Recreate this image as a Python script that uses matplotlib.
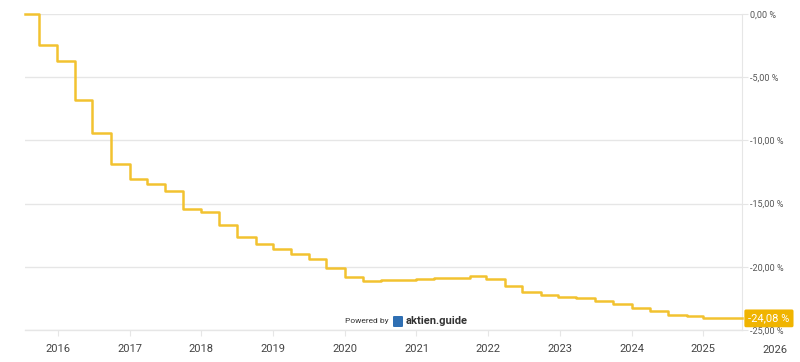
import matplotlib
matplotlib.use("Agg")
import matplotlib.pyplot as plt
import matplotlib.transforms as mtransforms
from matplotlib.patches import FancyBboxPatch

plt.rcParams['font.family'] = ['Roboto', 'DejaVu Sans']

# step starts (decimal year) and cumulative change in %
step_x = [2015.54, 2015.735, 2015.98, 2016.24, 2016.48, 2016.735,
          2017.0, 2017.24, 2017.49, 2017.75, 2018.0, 2018.24, 2018.50, 2018.76,
          2019.0, 2019.25, 2019.50, 2019.74, 2020.0, 2020.25, 2020.5, 2020.75,
          2021.0, 2021.25, 2021.5, 2021.75, 2021.97, 2022.23, 2022.47, 2022.74,
          2022.98, 2023.23, 2023.49, 2023.74, 2024.0, 2024.26, 2024.51, 2024.77,
          2025.0, 2025.27, 2025.54]
step_y = [0.00, -2.45, -3.72, -6.80, -9.41, -11.87,
          -13.05, -13.47, -14.02, -15.40, -15.69, -16.69, -17.66, -18.22,
          -18.59, -18.99, -19.41, -20.09, -20.83, -21.10, -21.07, -21.02,
          -20.96, -20.91, -20.85, -20.76, -20.96, -21.49, -21.97, -22.23,
          -22.35, -22.49, -22.68, -22.96, -23.23, -23.49, -23.81, -23.89,
          -24.02, -24.08, -24.08]

years = list(range(2016, 2026))
y_ticks = [0, -5, -10, -15, -20, -25]
last_label = "-24,08 %"

line_col = '#f2c230'
box_col = '#f0b400'
grid_col = '#e6e6e6'
text_col = '#555555'

fig = plt.figure(figsize=(8, 3.62), dpi=100)
ax = fig.add_axes([25 / 800, 32 / 362, 717 / 800, 316 / 362])

ax.plot(step_x, step_y, drawstyle='steps-post', color=line_col,
        linewidth=1.8, clip_on=False, zorder=3)

ax.set_xlim(2015.54, 2025.54)
ax.set_ylim(-25, 0)

ax.set_xticks(years)
ax.set_xticklabels([str(y) for y in years])
ax.set_yticks(y_ticks)
ax.set_yticklabels([f"{v:,.2f} %".replace('.', ',') for v in y_ticks])
ax.yaxis.tick_right()

ax.grid(axis='y', color=grid_col, linewidth=1.0)
ax.grid(axis='x', visible=False)
ax.set_axisbelow(True)

for s in ['top', 'left']:
    ax.spines[s].set_visible(False)
ax.spines['right'].set_color(grid_col)
ax.spines['bottom'].set_color(grid_col)
ax.spines['bottom'].set_linewidth(1.0)

ax.tick_params(axis='x', colors=grid_col, labelcolor='#444444', labelsize=8,
               length=4, pad=6)
ax.tick_params(axis='y', colors=grid_col, labelcolor=text_col, labelsize=6.5,
               length=4, pad=2)

# 2026 label sits past the right edge of the plot
trans = mtransforms.blended_transform_factory(ax.transData, ax.transAxes)
ax.text(2026, -0.062, "2026", transform=trans, ha='center', va='center',
        fontsize=8, color='#444444', clip_on=False)

# last value box
ax.annotate(last_label, xy=(1.0, step_y[-1]), xycoords=('axes fraction', 'data'),
            xytext=(4.5, 0), textcoords='offset points', ha='left', va='center',
            fontsize=8, color='white',
            bbox=dict(boxstyle='round,pad=0.35,rounding_size=0.15',
                      fc=box_col, ec='none'), zorder=5)

# "Powered by" branding
fig.text(367 / 800, 1 - 321 / 362, "Powered by", ha='center', va='center',
         fontsize=6, color='#333333')
icon = FancyBboxPatch((393 / 800, 1 - 327 / 362), 10 / 800, 11 / 362,
                      boxstyle='round,pad=0,rounding_size=0.002',
                      transform=fig.transFigure, fc='#2f6fb3', ec='none')
fig.patches.append(icon)
fig.text(406 / 800, 1 - 321 / 362, "aktien.guide", ha='left', va='center',
         fontsize=8, fontweight='bold', color='#333333')

fig.savefig("out.png", dpi=100)
